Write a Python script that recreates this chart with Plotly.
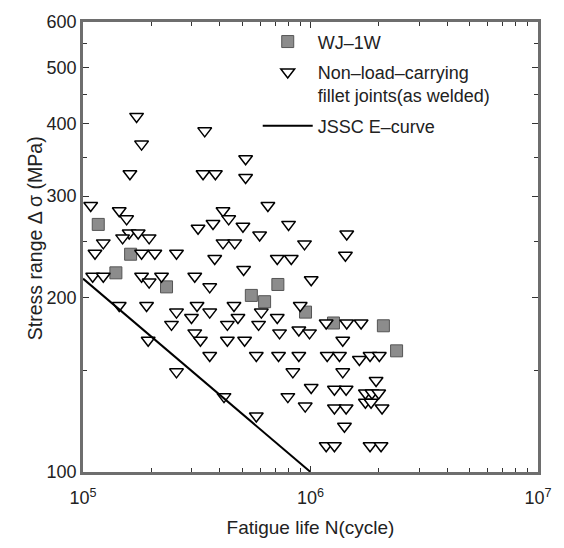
"""Fatigue test results: stress range vs fatigue life."""
import plotly.graph_objects as go

# WJ-1W specimens
wj_life = [1.167e5, 1.619e5, 1.395e5, 2.329e5, 5.495e5, 6.284e5,
           7.187e5, 9.508e5, 12.62e5, 20.91e5, 23.90e5]
wj_stress = [268, 238, 221, 209, 202, 197, 211, 189, 181, 179, 162]

# Non-load-carrying fillet joints (as welded)
fj_life = [
    1.720e5, 3.428e5, 1.809e5, 5.186e5, 1.608e5, 3.370e5, 3.819e5, 5.186e5,
    1.081e5, 1.443e5, 1.555e5, 4.125e5, 4.369e5, 6.497e5, 3.204e5, 3.728e5,
    5.047e5, 1.596e5, 1.748e5, 1.493e5, 1.953e5, 5.975e5, 1.228e5, 4.125e5,
    4.642e5, 1.129e5, 1.809e5, 2.069e5, 2.576e5, 3.793e5, 7.143e5, 5.082e5,
    1.103e5, 1.228e5, 1.809e5, 2.214e5, 3.099e5, 1.953e5, 3.606e5, 1.443e5,
    1.903e5, 3.172e5, 4.609e5, 2.576e5, 3.606e5, 6.079e5, 2.998e5, 4.799e5,
    7.143e5, 2.449e5, 4.311e5, 5.914e5, 1.934e5, 3.099e5, 3.282e5, 4.311e5,
    5.133e5, 7.311e5, 8.886e5, 9.900e5, 3.606e5, 5.778e5, 7.237e5, 8.886e5,
    11.84e5, 2.576e5, 8.365e5, 10.07e5, 4.167e5, 7.952e5, 9.479e5, 5.778e5,
    10.07e5, 9.012e5, 11.72e5, 14.43e5, 16.69e5, 13.86e5, 13.41e5, 16.40e5,
    18.27e5, 20.07e5, 13.86e5, 19.42e5, 12.74e5, 14.34e5, 17.43e5, 18.64e5,
    19.94e5, 17.43e5, 18.46e5, 20.63e5, 12.74e5, 14.34e5, 14.10e5, 11.72e5,
    12.74e5, 18.27e5, 20.42e5, 8.009e5, 14.43e5, 9.412e5, 8.231e5, 14.24e5,
    12.79e5, 14.43e5, 16.40e5, 18.46e5, 19.44e5,
]
fj_stress = [
    412, 389, 369, 348, 328, 328, 328, 323,
    289, 283, 274, 283, 274, 289, 264, 269,
    266, 259, 259, 254, 254, 257, 249, 249,
    249, 239, 239, 239, 239, 234, 234, 224,
    218, 218, 218, 218, 218, 213, 209, 194,
    194, 194, 194, 189, 189, 189, 185, 185,
    185, 180, 180, 180, 169, 174, 169, 169,
    169, 174, 176, 174, 159, 159, 159, 159,
    159, 149, 149, 140, 135, 135, 130, 125,
    215, 194, 181, 181, 181, 169, 159, 156.5,
    159, 159, 149, 144, 139, 139, 137, 137,
    137, 132, 132, 129, 129, 129, 120, 111,
    111, 111, 111, 268, 258, 248, 234, 237,
    99, 99, 99, 99, 99,
]

# JSSC E-curve end points
e_life = [1e5, 1e6]
e_stress = [216, 100]

x_ticks = [1e5, 1e6, 1e7]
x_ticktext = ["10<sup>5</sup>", "10<sup>6</sup>", "10<sup>7</sup>"]
x_minor = [2e5, 3e5, 4e5, 5e5, 6e5, 7e5, 8e5, 9e5,
           2e6, 3e6, 4e6, 5e6, 6e6, 7e6, 8e6, 9e6]
y_ticks = [100, 200, 300, 400, 500, 600]
y_minor = [150, 250, 350, 450, 550]

font = "Liberation Sans, Arial, sans-serif"
ink = "#222222"

fig = go.Figure()
fig.add_trace(go.Scatter(
    x=wj_life, y=wj_stress, mode="markers", name="WJ–1W",
    legendgroup="a",
    marker=dict(symbol="square", size=12, color="#8c8c8c",
                line=dict(color="#555555", width=1)),
))
fig.add_trace(go.Scatter(
    x=fj_life, y=fj_stress, mode="markers",
    name="Non–load–carrying<br>fillet joints(as welded)",
    legendgroup="b", cliponaxis=False,
    marker=dict(symbol="triangle-down", size=12, color="white",
                line=dict(color="black", width=1.5)),
))
fig.add_trace(go.Scatter(
    x=e_life, y=e_stress, mode="lines", name="JSSC E–curve",
    legendgroup="c",
    line=dict(color="black", width=2),
))

axis_common = dict(
    type="log", showgrid=False, zeroline=False,
    showline=True, linecolor="#6e6e6e", linewidth=2.5, mirror="ticks",
    ticks="inside", ticklen=6, tickcolor="#333333", tickwidth=1,
    tickfont=dict(family=font, size=18, color=ink),
    ticklabeloverflow="allow",
)

fig.update_layout(
    width=564, height=548,
    margin=dict(l=83, r=25, t=15, b=72),
    paper_bgcolor="white", plot_bgcolor="white",
    font=dict(family=font, size=18, color=ink),
    xaxis=dict(
        axis_common, range=[5, 7],
        tickvals=x_ticks, ticktext=x_ticktext, ticklabelstandoff=8,
        minor=dict(tickvals=x_minor, ticks="inside", ticklen=4,
                   tickcolor="#333333"),
        title=dict(text="Fatigue life N(cycle)", standoff=14,
                   font=dict(family=font, size=19, color=ink)),
    ),
    yaxis=dict(
        axis_common, range=[2, 2.778151],
        tickvals=y_ticks, ticktext=[str(v) for v in y_ticks],
        minor=dict(tickvals=y_minor, ticks="inside", ticklen=4,
                   tickcolor="#333333"),
    ),
    legend=dict(
        x=0.384, y=0.997, xanchor="left", yanchor="top",
        bgcolor="rgba(0,0,0,0)", borderwidth=0,
        font=dict(family=font, size=18, color=ink),
        itemwidth=50, valign="top", tracegroupgap=4,
    ),
    annotations=[dict(
        text="Stress range Δ σ (MPa)", textangle=-90,
        xref="paper", yref="paper", x=-0.105, y=0.52,
        xanchor="center", yanchor="middle", showarrow=False,
        font=dict(family=font, size=19.5, color=ink),
    )],
)

# page body margin would push the 564x548 figure off the window
fig.write_html("out.html", config={"displayModeBar": False},
               post_script="document.body.style.margin='0';")
